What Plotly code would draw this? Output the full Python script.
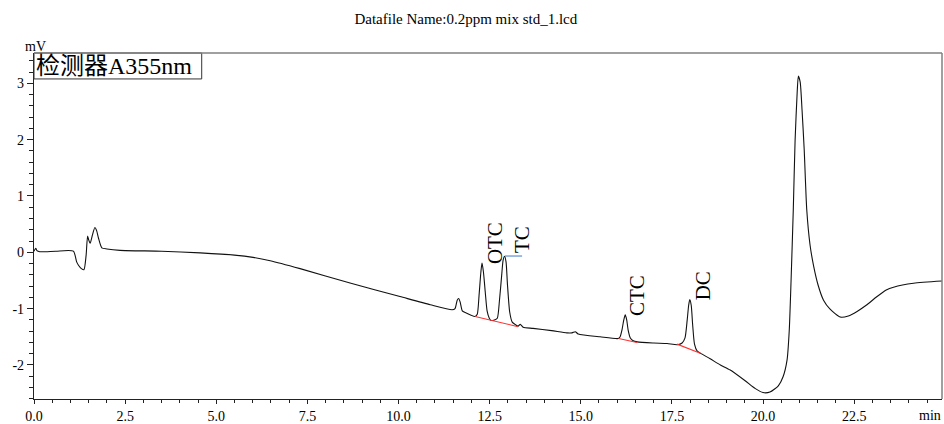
import plotly.graph_objects as go

# ---------------- data ----------------
time_min = [
    0.00, 0.05, 0.08, 0.16, 0.60, 1.08, 1.17, 1.22, 1.30, 1.37, 1.43, 1.47, 1.50, 1.54,
    1.60, 1.67, 1.72, 1.77, 1.86, 2.00, 2.36, 3.50, 4.56, 5.50, 6.01, 6.48, 7.30, 8.67,
    10.04, 10.87, 11.47, 11.55, 11.61, 11.65, 11.69, 11.75, 11.83, 12.10, 12.16, 12.21,
    12.26, 12.29, 12.33, 12.38, 12.43, 12.49, 12.54, 12.63, 12.71, 12.77, 12.83, 12.87,
    12.91, 12.95, 12.99, 13.05, 13.12, 13.20, 13.28, 13.34, 13.42, 13.69, 14.20, 14.62,
    14.76, 14.85, 14.93, 15.53, 16.03, 16.08, 16.13, 16.18, 16.22, 16.26, 16.30, 16.36,
    16.44, 16.55, 17.00, 17.37, 17.65, 17.78, 17.86, 17.92, 17.96, 17.99, 18.03, 18.07,
    18.12, 18.19, 18.28, 18.55, 18.83, 19.10, 19.51, 19.79, 20.00, 20.19, 20.42, 20.55,
    20.66, 20.72, 20.77, 20.83, 20.88, 20.94, 20.97, 21.02, 21.07, 21.13, 21.20, 21.29,
    21.39, 21.51, 21.66, 21.84, 22.12, 22.34, 22.58, 22.83, 23.12, 23.38, 23.58, 24.13,
    24.91,
]
signal_mv = [
    0.02, 0.07, 0.03, 0.01, 0.02, 0.02, -0.17, -0.23, -0.29, -0.31, -0.05, 0.29, 0.22, 0.16,
    0.30, 0.44, 0.38, 0.25, 0.08, 0.06, 0.035, 0.02, -0.01, -0.05, -0.09, -0.15, -0.29, -0.545,
    -0.785, -0.93, -1.02, -1.00, -0.85, -0.82, -0.88, -1.04, -1.07, -1.14, -1.10, -0.76,
    -0.35, -0.19, -0.35, -0.71, -1.04, -1.17, -1.21, -1.20, -1.17, -0.85, -0.41, -0.14,
    -0.07, -0.17, -0.58, -1.06, -1.24, -1.28, -1.31, -1.28, -1.33, -1.35, -1.39, -1.43,
    -1.43, -1.41, -1.45, -1.50, -1.53, -1.50, -1.38, -1.20, -1.11, -1.20, -1.38, -1.52,
    -1.57, -1.59, -1.61, -1.62, -1.64, -1.61, -1.52, -1.20, -0.94, -0.84, -0.94, -1.29,
    -1.63, -1.75, -1.79, -1.89, -2.00, -2.09, -2.28, -2.42, -2.49, -2.48, -2.37, -2.21,
    -1.91, -1.38, -0.49, 0.75, 1.99, 2.88, 3.13, 3.02, 2.53, 1.82, 0.75, 0.13,
    -0.25, -0.58, -0.85, -1.01, -1.15, -1.13, -1.05, -0.94, -0.79, -0.67, -0.62, -0.55,
    -0.51,
]

peak_names = ["OTC", "TC", "CTC", "DC"]
peak_rt = [12.29, 12.91, 16.22, 17.99]
peak_mv = [-0.19, -0.07, -1.11, -0.84]

# integration baselines (start t, start mV, end t, end mV)
base_t0 = [12.10, 16.04, 17.64]
base_v0 = [-1.14, -1.53, -1.63]
base_t1 = [13.28, 16.54, 18.28]
base_v1 = [-1.32, -1.60, -1.79]

# TC marker line
marker_t = [12.92, 13.39]
marker_v = [-0.066, -0.066]

x_tickvals = [0.0, 2.5, 5.0, 7.5, 10.0, 12.5, 15.0, 17.5, 20.0, 22.5]
x_ticktext = ["0.0", "2.5", "5.0", "7.5", "10.0", "12.5", "15.0", "17.5", "20.0", "22.5"]
y_tickvals = [-2, -1, 0, 1, 2, 3]
y_ticktext = ["-2", "-1", "0", "1", "2", "3"]

title_text = "Datafile Name:0.2ppm mix std_1.lcd"
detector_text = "检测器A355nm"

# ---------------- figure ----------------
SERIF = "Liberation Serif, Times New Roman, Noto Sans CJK SC, serif"

fig = go.Figure()
fig.add_trace(go.Scatter(x=time_min, y=signal_mv, mode="lines",
                         line=dict(color="#111111", width=1.1, shape="spline", smoothing=0.6),
                         hoverinfo="skip", showlegend=False))
for a, b, c, d in zip(base_t0, base_v0, base_t1, base_v1):
    fig.add_trace(go.Scatter(x=[a, c], y=[b, d], mode="lines",
                             line=dict(color="#ff3030", width=1.1),
                             hoverinfo="skip", showlegend=False))
fig.add_trace(go.Scatter(x=marker_t, y=marker_v, mode="lines",
                         line=dict(color="#5b8fd0", width=1.2),
                         hoverinfo="skip", showlegend=False))

label_dx = [0.36, 0.46, 0.34, 0.37]
label_shift = [-3, 1, -3, -3]
for name, rt, mv, dx, ys in zip(peak_names, peak_rt, peak_mv, label_dx, label_shift):
    fig.add_annotation(x=rt + dx, y=mv, xref="x", yref="y", text=name, textangle=-90,
                       showarrow=False, xanchor="center", yanchor="bottom", yshift=ys,
                       font=dict(family=SERIF, size=21, color="#000000"))

# detector label box
fig.add_shape(type="rect", xref="paper", yref="paper", x0=0.0, x1=0.1847, y0=0.925, y1=1.0,
              line=dict(color="#333333", width=1), fillcolor="white", layer="above")
fig.add_annotation(x=0.0885, y=0.962, xref="paper", yref="paper", text=detector_text,
                   showarrow=False, xanchor="center", yanchor="middle",
                   font=dict(family=SERIF, size=24, color="#000000"))
# unit labels
fig.add_annotation(x=0.002, y=1.018, xref="paper", yref="paper", text="mV", showarrow=False,
                   xanchor="center", yanchor="middle",
                   font=dict(family=SERIF, size=14, color="#000000"))
fig.add_annotation(x=0.987, y=-0.047, xref="paper", yref="paper", text="min", showarrow=False,
                   xanchor="center", yanchor="middle",
                   font=dict(family=SERIF, size=14, color="#000000"))
# top and right frame lines
fig.add_shape(type="line", xref="paper", yref="paper", x0=0, x1=1, y0=1, y1=1,
              line=dict(color="#808080", width=1.5))
fig.add_shape(type="line", xref="paper", yref="paper", x0=1, x1=1, y0=0, y1=1,
              line=dict(color="#808080", width=1.5))

fig.update_layout(
    width=944, height=424,
    margin=dict(l=34, r=2, t=53, b=25, autoexpand=False),
    paper_bgcolor="white", plot_bgcolor="white",
    title=dict(text=title_text, x=0.4756, xref="paper", xanchor="center",
               y=0.955, yref="container", yanchor="middle", automargin=False,
               font=dict(family=SERIF, size=15, color="#000000")),
    xaxis=dict(range=[0, 24.91], showgrid=False, zeroline=False, automargin=False,
               showline=True, linecolor="#222222", linewidth=1.2,
               ticks="outside", ticklen=4, tickcolor="#222222",
               tickvals=x_tickvals, ticktext=x_ticktext,
               minor=dict(dtick=0.5, ticks="outside", ticklen=3, tickcolor="#222222", showgrid=False),
               tickfont=dict(family=SERIF, size=14, color="#000000")),
    yaxis=dict(range=[-2.604, 3.538], showgrid=False, zeroline=False, automargin=False,
               showline=True, linecolor="#222222", linewidth=1.2,
               ticks="outside", ticklen=6, tickcolor="#222222",
               tickvals=y_tickvals, ticktext=y_ticktext,
               minor=dict(dtick=0.2, tick0=0, ticks="outside", ticklen=4, tickcolor="#222222", showgrid=False),
               tickfont=dict(family=SERIF, size=14, color="#000000")),
)

fig.write_html("out.html")
